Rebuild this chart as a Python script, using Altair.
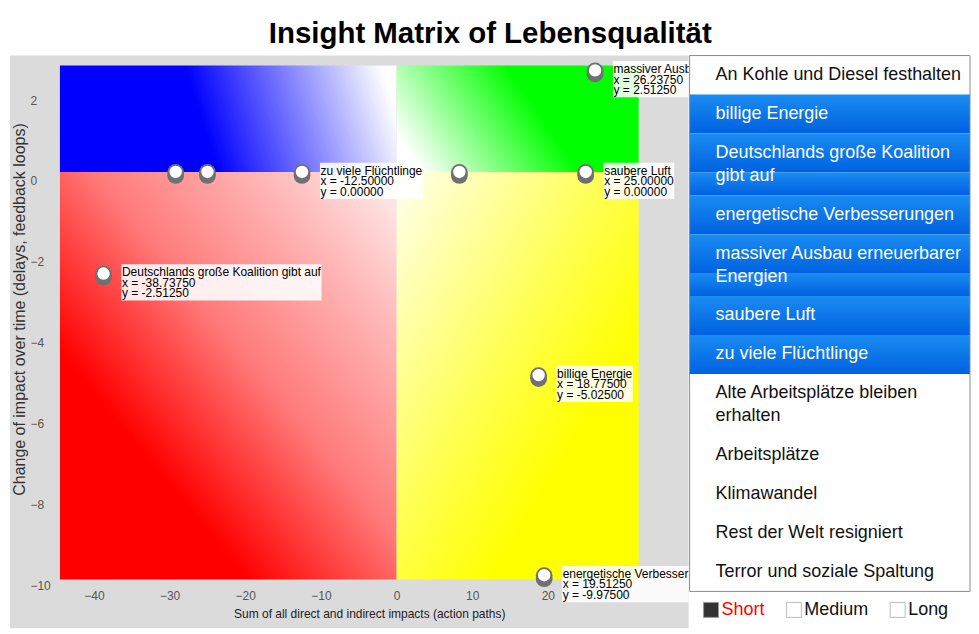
import altair as alt
import pandas as pd

FONT = "Liberation Sans"

TITLE = "Insight Matrix of Lebensqualität"
X_TITLE = "Sum of all direct and indirect impacts (action paths)"
Y_TITLE = "Change of impact over time (delays, feedback loops)"

X_TICKS = [-40, -30, -20, -10, 0, 10, 20, 30]
Y_TICKS = [-10, -8, -6, -4, -2, 0, 2]

# extent of the grey view and of the coloured matrix (data units)
X_DOMAIN = [-51.1, 38.6]
Y_DOMAIN = [-11.29, 2.88]
MATRIX_X = [-44.5, 32.0]
MATRIX_Y = [-10.08, 2.633]

# plotted factors
point_names = [
    "massiver Ausbau erneuerbarer Energien",
    "saubere Luft",
    "zu viele Flüchtlinge",
    "Deutschlands große Koalition gibt auf",
    "billige Energie",
    "energetische Verbesserungen",
    "", "", "",
]
point_x = [26.2375, 25.0, -12.5, -38.7375, 18.775, 19.5125, -29.2, -25.0, 8.3]
point_y = [2.5125, 0.0, 0.0, -2.5125, -5.025, -9.975, 0.0, 0.0, 0.0]

# side list
list_items = [
    "An Kohle und Diesel festhalten",
    "billige Energie",
    "Deutschlands große Koalition gibt auf",
    "energetische Verbesserungen",
    "massiver Ausbau erneuerbarer Energien",
    "saubere Luft",
    "zu viele Flüchtlinge",
    "Alte Arbeitsplätze bleiben erhalten",
    "Arbeitsplätze",
    "Klimawandel",
    "Rest der Welt resigniert",
    "Terror und soziale Spaltung",
]
highlighted = [
    "billige Energie",
    "Deutschlands große Koalition gibt auf",
    "energetische Verbesserungen",
    "massiver Ausbau erneuerbarer Energien",
    "saubere Luft",
    "zu viele Flüchtlinge",
]

legend_labels = ["Short", "Medium", "Long"]
legend_active = "Short"

# ---------------------------------------------------------------- layout
LEFT_W, LEFT_H = 680, 574
LIST_W, PANEL_H = 281, 574
PPU_X = LEFT_W / (X_DOMAIN[1] - X_DOMAIN[0])

# approximate Helvetica/Arial advance widths (per 1000 em)
_W = {}
for chars, w in [
    ("ijl", 222), ("ft ,.I", 278), ("r-()", 333), ("cksvxyzJ", 500),
    ("abdeghnopqu0123456789äöüL", 556), ("=", 584), ("ßFTZ", 611),
    ("ABEKPSVXY", 667), ("CDHNRUw", 722), ("GOQ", 778), ("mM", 833), ("W", 944),
]:
    for c in chars:
        _W[c] = w


def text_w(s, size):
    return sum(_W.get(c, 556) for c in s) * size / 1000.0


def wrap(s, size, maxw):
    lines, cur = [], ""
    for word in s.split(" "):
        cand = word if not cur else cur + " " + word
        if text_w(cand, size) <= maxw or not cur:
            cur = cand
        else:
            lines.append(cur)
            cur = word
    lines.append(cur)
    return lines


points = pd.DataFrame({"name": point_names, "x": point_x, "y": point_y})

lab_rows = []
for n, x, y in zip(point_names, point_x, point_y):
    if not n:
        continue
    lines = [n, f"x = {x:.5f}", f"y = {y:.5f}"]
    w = max(text_w(l, 12) for l in lines) + 1
    lab_rows.append({"x": x, "y": y, "x_end": x + w / PPU_X, "label": "\n".join(lines)})
labels = pd.DataFrame(lab_rows)

quads = pd.DataFrame({
    "q": ["tl", "tr", "bl", "br"],
    "x0": [MATRIX_X[0], 0, MATRIX_X[0], 0],
    "x1": [0, MATRIX_X[1], 0, MATRIX_X[1]],
    "y0": [0, 0, MATRIX_Y[0], MATRIX_Y[0]],
    "y1": [MATRIX_Y[1], MATRIX_Y[1], 0, 0],
})


def grad(x1, y1, x2, y2, stops):
    return {"gradient": "linear", "x1": x1, "y1": y1, "x2": x2, "y2": y2,
            "stops": [{"offset": o, "color": c} for o, c in stops]}


QUAD_FILLS = {
    "tl": grad(0, 0.55, 1, 0.45, [(0, "#0000ff"), (0.42, "#0000ff"), (1, "#ffffff")]),
    "tr": grad(0, 0.65, 1, 0.35, [(0, "#ffffff"), (0.6, "#00ff00"), (1, "#00ff00")]),
    "bl": grad(0, 1, 1, 0, [(0, "#ff0000"), (0.28, "#ff0000"), (0.55, "#ff7a7a"),
                           (0.8, "#ffb8b8"), (1, "#fff0f0")]),
    "br": grad(0, 0, 1, 1, [(0, "#fffff0"), (0.45, "#ffff50"), (0.7, "#ffff00"), (1, "#ffff00")]),
}

x_axis = alt.Axis(
    values=X_TICKS, orient="bottom", offset=-38, domain=False, ticks=False, tickSize=0,
    grid=False, labelFontSize=12, labelColor="#555555", labelFont=FONT, labelPadding=0,
    labelBaseline="top", labelFlush=False, labelOverlap=False,
    title=X_TITLE, titleFont=FONT, titleFontSize=12, titleFontWeight="normal",
    titleColor="#222222", titleX=360, titleY=23, titleBaseline="middle", titleAlign="center",
)
y_axis = alt.Axis(
    values=Y_TICKS, orient="left", offset=-20, domain=False, ticks=False, tickSize=0,
    grid=False, labelFontSize=12, labelColor="#555555", labelFont=FONT, labelPadding=0,
    labelAlign="left", labelOffset=9, labelFlush=False, labelOverlap=False,
    title=Y_TITLE, titleFont=FONT, titleFontSize=16, titleFontWeight="normal",
    titleColor="#333333", titleX=-10, titleY=254, titleAngle=270,
    titleBaseline="middle", titleAlign="center",
)
xs = alt.Scale(domain=X_DOMAIN, nice=False, zero=False)
ys = alt.Scale(domain=Y_DOMAIN, nice=False, zero=False)


def X(f):
    return alt.X(f, type="quantitative", scale=xs, axis=x_axis)


def Y(f):
    return alt.Y(f, type="quantitative", scale=ys, axis=y_axis)


quad_layers = [
    alt.Chart(quads).transform_filter(alt.datum.q == q)
    .mark_rect(fill=g).encode(x=X("x0"), x2="x1", y=Y("y0"), y2="y1")
    for q, g in QUAD_FILLS.items()
]

pts = alt.Chart(points).encode(x=X("x"), y=Y("y"))
shadow1 = pts.mark_circle(size=284, color="#707070", opacity=1, yOffset=0.5)
shadow2 = pts.mark_circle(size=284, color="#707070", opacity=1, yOffset=3.5)
face = pts.mark_circle(size=154, color="#ffffff", opacity=1)

boxes = alt.Chart(labels).mark_rect(
    fill="#ffffff", opacity=0.88, xOffset=18, x2Offset=18, yOffset=-9.3, y2Offset=27, clip=True
).encode(x=X("x"), x2="x_end", y=Y("y"), y2="y")

texts = alt.Chart(labels).mark_text(
    align="left", baseline="middle", dx=18.5, dy=-1.3, fontSize=12, lineHeight=10.5,
    lineBreak="\n", font=FONT, color="#000000", clip=True
).encode(x=X("x"), y=Y("y"), text="label:N")

left = alt.layer(*quad_layers, shadow1, shadow2, face, boxes, texts).properties(
    width=LEFT_W, height=LEFT_H,
    view=alt.ViewBackground(fill="#dbdbdb", stroke="transparent", strokeWidth=0)
)

# ---------------------------------------------------------------- list panel
rows, segs = [], []
cur = 0.0
for item in list_items:
    lines = wrap(item, 18, 250)
    h = 16 + 23 * len(lines)
    hl = item in highlighted
    rows.append({"x0": 0, "text": "\n".join(lines), "yc": cur + 19.5, "hl": hl})
    if hl:
        s0 = cur
        for k in range(len(lines)):
            s1 = s0 + (39 if k == 0 else 23)
            segs.append({"x0": 0, "x1": LIST_W, "y0": s0, "y1": s1})
            s0 = s1
    cur += h
LIST_TOTAL = cur
rows = pd.DataFrame(rows)
segs = pd.DataFrame(segs)
frame = pd.DataFrame({"x0": [0], "x1": [LIST_W], "y0": [0], "y1": [LIST_TOTAL]})

leg = []
cx = 14.0
for lab in legend_labels:
    tw = text_w(lab, 18)
    leg.append({"label": lab, "sx": cx + 7.5, "tx": cx + 18, "ly": LIST_TOTAL + 18.5,
                "active": lab == legend_active})
    cx += 15 + 3 + tw + 22
leg = pd.DataFrame(leg)

xr = alt.Scale(domain=[0, LIST_W], nice=False, zero=False)
yr = alt.Scale(domain=[0, PANEL_H], nice=False, zero=False, reverse=True)


def XR(f):
    return alt.X(f, type="quantitative", scale=xr, axis=None)


def YR(f):
    return alt.Y(f, type="quantitative", scale=yr, axis=None)


BLUE = grad(0, 0, 0, 1, [(0, "#1a8cf2"), (1, "#0061e0")])

frame_bg = alt.Chart(frame).mark_rect(fill="#ffffff").encode(
    x=XR("x0"), x2="x1", y=YR("y0"), y2="y1")
seg_l = alt.Chart(segs).mark_rect(fill=BLUE).encode(x=XR("x0"), x2="x1", y=YR("y0"), y2="y1")
item_t = alt.Chart(rows).mark_text(
    align="left", baseline="middle", dx=26, fontSize=18, lineHeight=23, lineBreak="\n", font=FONT
).encode(x=XR("x0"), y=YR("yc"), text="text:N",
         color=alt.condition(alt.datum.hl, alt.value("#ffffff"), alt.value("#111111")))
frame_line = alt.Chart(frame).mark_rect(fillOpacity=0, stroke="#8c8c8c", strokeWidth=1).encode(
    x=XR("x0"), x2="x1", y=YR("y0"), y2="y1")
leg_sq = alt.Chart(leg).mark_square(size=225, opacity=1, strokeWidth=1).encode(
    x=XR("sx"), y=YR("ly"),
    fill=alt.condition(alt.datum.active, alt.value("#333333"), alt.value("#ffffff")),
    stroke=alt.condition(alt.datum.active, alt.value("#999999"), alt.value("#bbbbbb")))
leg_t = alt.Chart(leg).mark_text(align="left", baseline="middle", fontSize=18, font=FONT).encode(
    x=XR("tx"), y=YR("ly"), text="label:N",
    color=alt.condition(alt.datum.active, alt.value("#ff0000"), alt.value("#111111")))

right = alt.layer(frame_bg, seg_l, item_t, frame_line, leg_sq, leg_t).properties(
    width=LIST_W, height=PANEL_H,
    view=alt.ViewBackground(stroke="transparent", strokeWidth=0))

chart = alt.hconcat(left, right, spacing=0).properties(
    title=alt.TitleParams(text=TITLE, font=FONT, fontSize=29.5, fontWeight="bold",
                          color="#000000", anchor="middle", offset=6),
    padding={"left": 2, "top": 10, "right": 0, "bottom": 0},
).configure_view(strokeWidth=0, stroke="transparent").configure(font=FONT)

chart.save("out.html", embed_options={"renderer": "svg", "actions": False})
